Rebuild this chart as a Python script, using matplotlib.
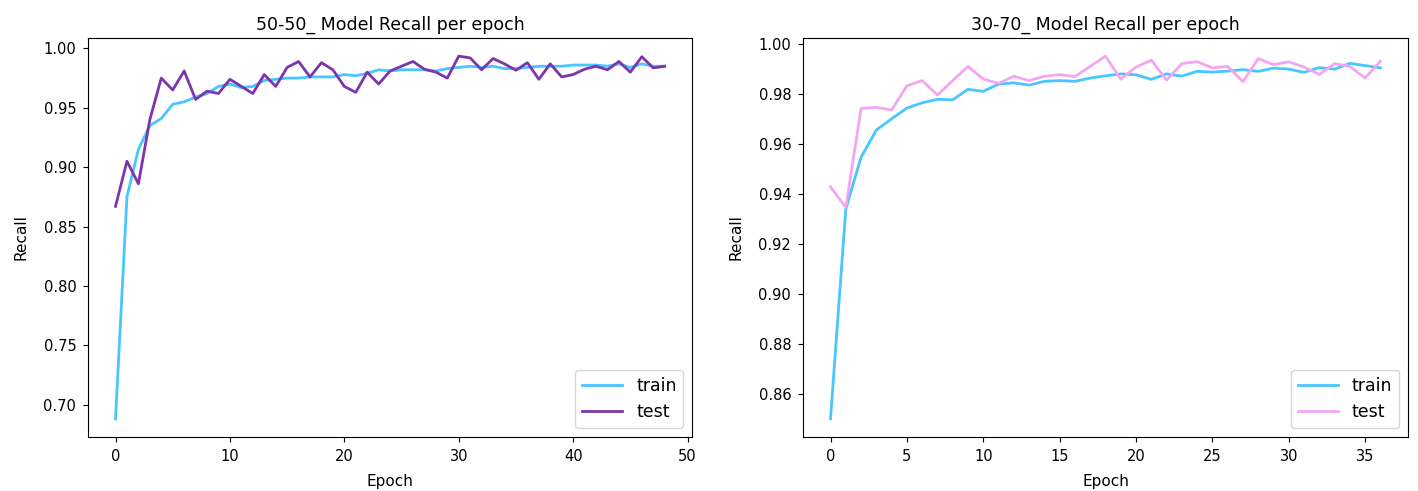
import numpy as np
import matplotlib
matplotlib.use("Agg")
import matplotlib.pyplot as plt

# 50-50 split, 49 epochs
train_50 = [0.688, 0.875, 0.915, 0.935, 0.941, 0.953, 0.955, 0.959, 0.962, 0.968,
            0.970, 0.967, 0.968, 0.973, 0.974, 0.975, 0.975, 0.976, 0.976, 0.976,
            0.978, 0.977, 0.979, 0.982, 0.981, 0.982, 0.982, 0.982, 0.981, 0.983,
            0.984, 0.985, 0.984, 0.985, 0.983, 0.983, 0.984, 0.985, 0.985, 0.985,
            0.986, 0.986, 0.986, 0.985, 0.987, 0.984, 0.987, 0.985, 0.985]
test_50 = [0.867, 0.905, 0.886, 0.940, 0.975, 0.965, 0.981, 0.957, 0.964, 0.962,
           0.974, 0.968, 0.962, 0.978, 0.968, 0.984, 0.989, 0.976, 0.988, 0.982,
           0.968, 0.963, 0.980, 0.970, 0.981, 0.985, 0.989, 0.9825, 0.980, 0.975,
           0.9935, 0.992, 0.982, 0.9915, 0.987, 0.9816, 0.988, 0.974, 0.987, 0.976,
           0.978, 0.9825, 0.985, 0.982, 0.989, 0.980, 0.993, 0.9836, 0.985]

# 30-70 split, 37 epochs
train_30 = [0.850, 0.934, 0.9548, 0.9657, 0.9702, 0.9745, 0.9766, 0.978, 0.9778, 0.982,
            0.9812, 0.9841, 0.9846, 0.9837, 0.9852, 0.9855, 0.9852, 0.9865, 0.9874, 0.9882,
            0.9878, 0.986, 0.9882, 0.9873, 0.9892, 0.9889, 0.9893, 0.9899, 0.9892, 0.9905,
            0.9901, 0.9888, 0.9907, 0.9901, 0.9924, 0.9915, 0.9906]
test_30 = [0.9429, 0.9347, 0.9743, 0.9748, 0.9737, 0.9834, 0.9855, 0.9797, 0.9855, 0.9912,
           0.9861, 0.9844, 0.9872, 0.9855, 0.9872, 0.9879, 0.9871, 0.9912, 0.9953, 0.9861,
           0.9909, 0.9937, 0.9857, 0.9923, 0.9931, 0.9906, 0.9912, 0.9851, 0.9943, 0.9919,
           0.993, 0.9909, 0.988, 0.9923, 0.9912, 0.9865, 0.9933]

fig = plt.figure(figsize=(14.18, 4.91), dpi=100)
ax1 = fig.add_axes([0.0621, 0.110, 0.4260, 0.8126])
ax2 = fig.add_axes([0.5663, 0.110, 0.4266, 0.8126])

ax1.plot(train_50, color='#48c6ff', lw=2, label='train')
ax1.plot(test_50, color='#7d35ad', lw=2, label='test')
ax1.set_title('50-50_ Model Recall per epoch', fontsize=12.5)

ax2.plot(train_30, color='#48c6ff', lw=2, label='train')
ax2.plot(test_30, color='#f4a6f2', lw=2, label='test')
ax2.set_title('30-70_ Model Recall per epoch', fontsize=12.5)

for ax in (ax1, ax2):
    ax.set_xlabel('Epoch', fontsize=11, labelpad=7)
    ax.set_ylabel('Recall', fontsize=11, labelpad=11)
    ax.tick_params(labelsize=10.5, pad=5)
    ax.legend(loc='lower right', fontsize=12.5, handlelength=2.3)

fig.savefig('out.png', dpi=100)
